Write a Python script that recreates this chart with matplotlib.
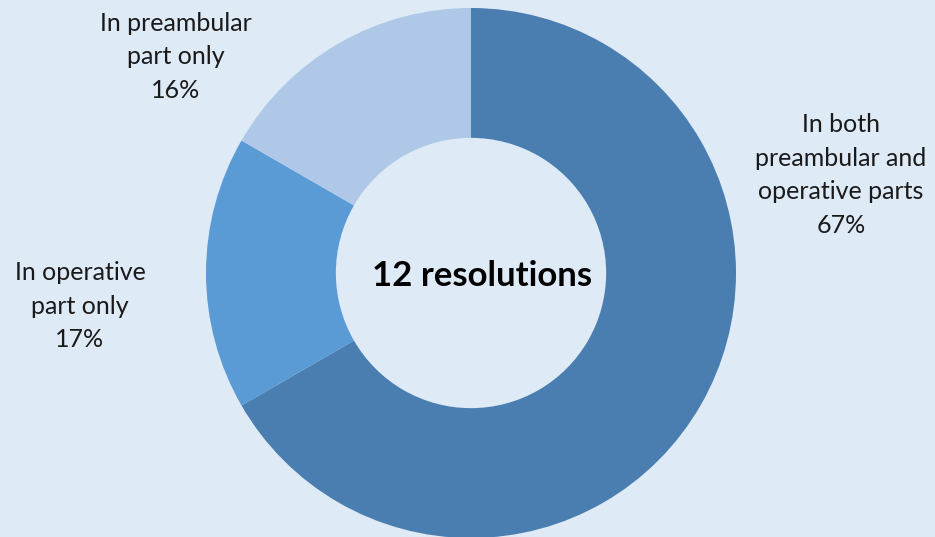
import matplotlib.pyplot as plt

plt.rcParams['font.family'] = ['Lato', 'DejaVu Sans']

# data: 12 resolutions split by where the reference appears
categories = ["In both\npreambular and\noperative parts",
              "In operative\npart only",
              "In preambular\npart only"]
counts = [8, 2, 2]
pct_labels = ["67%", "17%", "16%"]
colors = ["#4A7EB0", "#5B9BD5", "#AFC8E7"]
bg = "#DEEAF6"

fig = plt.figure(figsize=(9.35, 5.37), dpi=100, facecolor=bg)
ax = fig.add_axes([0, 0, 1, 1])
ax.set_facecolor(bg)

cx, cy, r = 471, 273, 265
# y axis is inverted (pixel-like coords), so counterclock=True runs clockwise on screen
ax.pie(counts, colors=colors, startangle=-90, counterclock=True,
       center=(cx, cy), radius=r, frame=True,
       wedgeprops=dict(width=r * 0.49, linewidth=0))
ax.set_xlim(0, 935)
ax.set_ylim(537, 0)
ax.set_aspect("equal")
ax.axis("off")

label_pos = [(841, 175), (80, 306), (176, 57)]
for cat, p, (x, y) in zip(categories, pct_labels, label_pos):
    ax.text(x, y, cat + "\n" + p, ha="center", va="center",
            fontsize=18, color="#1a1a1a", linespacing=1.55)

ax.text(482, 276, "12 resolutions", ha="center", va="center",
        fontsize=25, fontweight="bold", color="black")

fig.savefig("out.png", dpi=100, facecolor=bg)
